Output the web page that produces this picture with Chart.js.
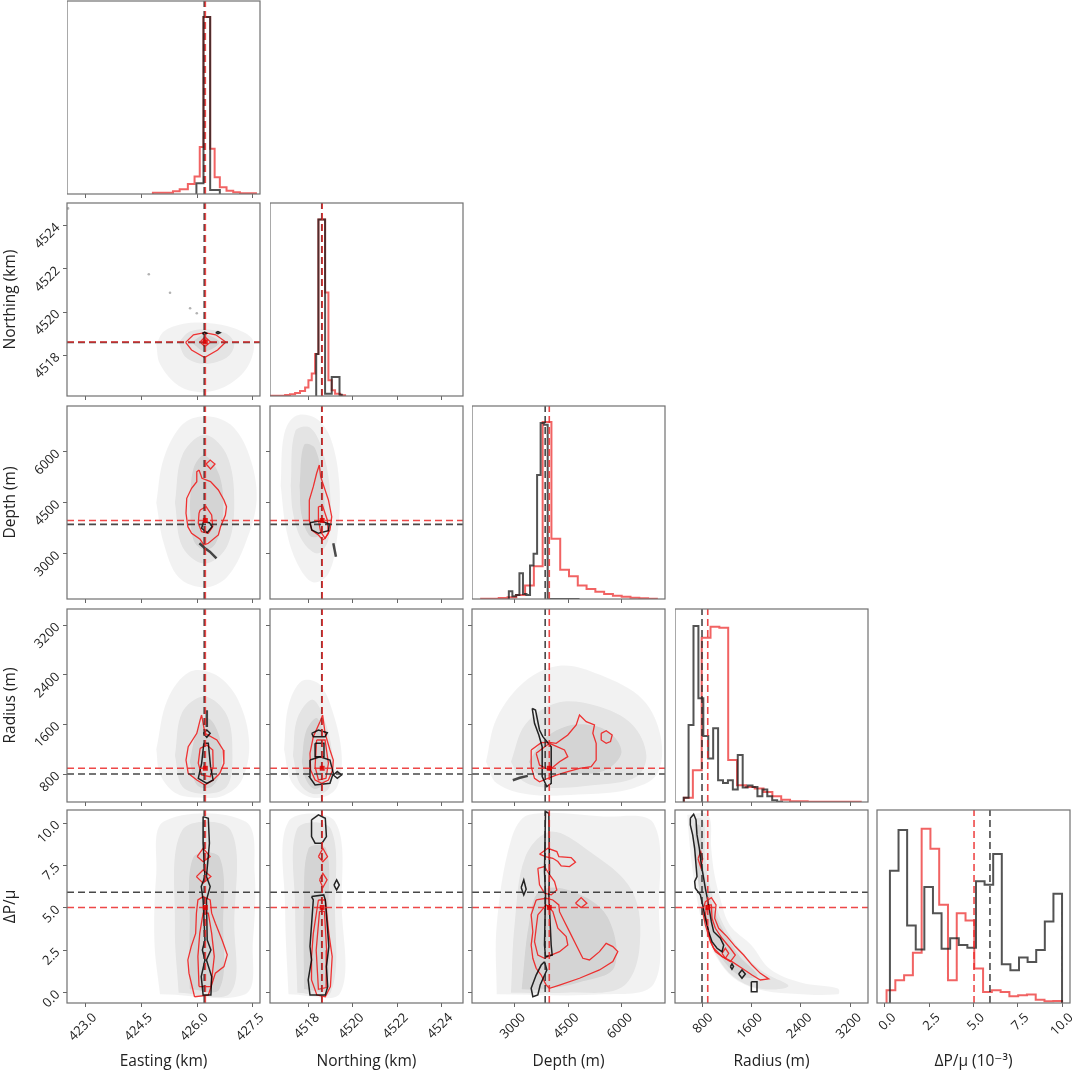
<!DOCTYPE html>
<html>
<head>
<meta charset="utf-8">
<title>Corner plot</title>
<script src="https://cdn.jsdelivr.net/npm/chart.js@4.4.1/dist/chart.umd.min.js"></script>
<style>
  body { margin: 0; background: #fff; overflow: hidden; }
  #fig { position: relative; width: 1072px; height: 1074px; overflow: hidden; }
  .cell { position: absolute; }
</style>
</head>
<body>
<div id="fig"></div>
<script>
// parameters of the corner plot
const xTitles = ["Easting (km)", "Northing (km)", "Depth (m)", "Radius (m)", "ΔP/μ (10⁻³)"];
const yTitles = ["", "Northing (km)", "Depth (m)", "Radius (m)", "ΔP/μ"];
const xRanges = [[422.5, 427.69], [4516.27, 4524.96], [1808, 7220], [363, 3486], [-0.45, 10.45]];
const yRanges = [null, [4516.12, 4525.05], [1659, 7349], [349, 3462], [-0.61, 10.78]];
const tickValues = [[423.0, 424.5, 426.0, 427.5], [4518, 4520, 4522, 4524], [3000, 4500, 6000], [800, 1600, 2400, 3200], [0, 2.5, 5, 7.5, 10]];
const tickDigits = [1, 0, 0, 0, 1];
const markBlack = [426.19, 4518.6, 3860, 800, 5.93];
const markRed = [426.22, 4518.62, 3975, 893, 5.03];

// 1-D histograms
const eastEdgesRed = [424.81, 425.35, 425.53, 425.75, 425.93, 426.07, 426.17, 426.35, 426.47, 426.61, 426.79, 426.97, 427.15, 427.58];
const eastCountsRed = [4, 8, 14, 30, 52, 140, 528, 135, 50, 20, 10, 5, 2];
const eastEdgesBlack = [425.98, 426.17, 426.35, 426.61];
const eastCountsBlack = [32, 528, 12];
const northEdgesRed = [4516.27, 4516.65, 4516.95, 4517.17, 4517.4, 4517.62, 4517.85, 4518.0, 4518.15, 4518.3, 4518.45, 4518.75, 4518.9, 4519.05, 4519.2, 4519.43, 4519.65];
const northCountsRed = [0.5, 1, 3, 5, 9, 15, 25, 47, 67, 125, 527, 309, 47, 17, 7, 2];
const northEdgesBlack = [4518.35, 4518.45, 4518.75, 4519.05, 4519.4, 4519.5];
const northCountsBlack = [125, 527, 7, 57, 4];
const depthRangeRed = [2065, 6991];
const depthCountsRed = [1, 1, 3, 5, 12, 40, 98, 528, 180, 87, 68, 40, 30, 22, 15, 10, 7, 4, 2, 1];
const depthRangeBlack = [2841, 4822];
const depthCountsBlack = [23, 8, 12, 77, 15, 12, 100, 135, 370, 525, 520, 0, 0, 0, 0, 0, 0, 0, 0, 0];
const radiusRangeRed = [509, 3368];
const radiusCountsRed = [13, 95, 490, 523, 520, 125, 50, 45, 40, 30, 17, 7, 2, 2, 1, 1, 1, 1, 1, 1];
const radiusRangeBlack = [503, 2095];
const radiusCountsBlack = [13, 230, 525, 310, 197, 130, 220, 65, 57, 65, 37, 140, 43, 49, 45, 17, 37, 17, 5, 1];
const dpRangeRed = [0.09, 10.0];
const dpCountsRed = [38, 68, 83, 150, 520, 460, 293, 68, 268, 246, 103, 33, 38, 33, 20, 23, 25, 10, 5, 6];
const dpRangeBlack = [0.28, 10.0];
const dpCountsBlack = [395, 516, 231, 160, 346, 268, 162, 193, 173, 165, 363, 353, 445, 116, 98, 136, 122, 158, 243, 326];

// Easting / Northing
const cloudEN1 = [[424.9, 4518.5], [425.1, 4519.1], [425.6, 4519.45], [426.3, 4519.5], [427.0, 4519.25], [427.5, 4518.7], [427.4, 4517.6], [426.9, 4516.7], [426.2, 4516.3], [425.5, 4516.6], [425.0, 4517.6]];
const cloudEN2 = [[425.5, 4518.6], [425.8, 4519.1], [426.3, 4519.2], [426.8, 4519.0], [427.0, 4518.5], [426.8, 4517.9], [426.2, 4517.6], [425.7, 4517.9]];
const cloudEN3 = [[425.85, 4518.6], [426.2, 4518.95], [426.6, 4518.6], [426.2, 4518.2]];
const redEN1 = [[425.69, 4518.6], [425.9, 4518.95], [426.2, 4519.05], [426.5, 4518.95], [426.77, 4518.62], [426.55, 4518.25], [426.2, 4517.9], [425.85, 4518.25]];
const redEN2 = [[426.08, 4518.62], [426.21, 4518.85], [426.36, 4518.62], [426.21, 4518.4]];
const blackEN1 = [[426.14, 4519.02], [426.2, 4519.08], [426.26, 4519.02], [426.2, 4518.96]];
const blackEN2 = [[426.5, 4519.05], [426.56, 4519.1], [426.62, 4519.05], [426.56, 4519.0]];
const dotsEN = [[424.7, 4521.75], [425.27, 4520.9], [425.81, 4520.18], [425.99, 4519.95], [422.53, 4524.8]];

// Easting / Depth
const cloudED1 = [[424.9, 4500], [425.1, 5800], [425.6, 6800], [426.2, 7050], [426.9, 6800], [427.4, 5900], [427.6, 4600], [427.3, 3300], [426.8, 2300], [426.2, 2000], [425.5, 2300], [425.1, 3300]];
const cloudED2 = [[425.4, 4500], [425.6, 5900], [426.2, 6500], [426.8, 5900], [427.0, 4500], [426.8, 3200], [426.2, 2700], [425.6, 3200]];
const cloudED3 = [[425.8, 4400], [425.9, 5500], [426.2, 5900], [426.6, 5300], [426.7, 4200], [426.5, 3300], [426.2, 3100], [425.9, 3400]];
const redED1 = [[426.05, 5462], [426.13, 5218], [426.36, 5118], [426.57, 4873], [426.72, 4578], [426.79, 4381], [426.76, 4136], [426.63, 3791], [426.57, 3546], [426.30, 3301], [426.18, 3251], [426.08, 3419], [425.85, 3596], [425.75, 3791], [425.70, 4186], [425.72, 4628], [425.85, 4923], [425.99, 5118], [425.99, 5412]];
const redED2 = [[426.24, 5639], [426.35, 5757], [426.48, 5639], [426.36, 5492]];
const redED3 = [[426.08, 4283], [426.24, 4381], [426.39, 4136], [426.42, 3791], [426.30, 3596], [426.12, 3645], [426.03, 3891], [426.05, 4186]];
const blackED1 = [[426.17, 3938], [426.33, 3909], [426.40, 3791], [426.27, 3614], [426.12, 3743]];
const streakED = [[426.06, 3301], [426.21, 3154], [426.34, 3055], [426.52, 2859]];

// Northing / Depth
const cloudND1 = [[4516.75, 5000], [4516.9, 6500], [4517.4, 7050], [4518.3, 7000], [4519.0, 6400], [4519.4, 5000], [4519.3, 3500], [4518.9, 2400], [4518.2, 2150], [4517.5, 2700], [4517.0, 3700]];
const cloudND2 = [[4517.2, 5000], [4517.4, 6600], [4518.1, 6700], [4518.7, 5900], [4519.0, 4600], [4518.9, 3400], [4518.4, 3000], [4517.7, 3400], [4517.3, 4200]];
const cloudND3 = [[4517.6, 5000], [4517.8, 6200], [4518.3, 6100], [4518.7, 4800], [4518.6, 3600], [4518.1, 3500], [4517.7, 4100]];
const redND1 = [[4518.49, 5610], [4518.55, 5265], [4518.90, 4578], [4519.05, 4086], [4518.97, 3693], [4518.75, 3449], [4518.64, 3399], [4518.45, 3546], [4518.15, 3693], [4518.04, 3988], [4518.04, 4578], [4518.22, 4971], [4518.37, 5365]];
const redND2 = [[4518.45, 4381], [4518.64, 4401], [4518.85, 3988], [4518.90, 3596], [4518.75, 3449], [4518.55, 3645], [4518.45, 3988]];
const blackND1 = [[4518.07, 3909], [4518.52, 3968], [4518.94, 3870], [4518.90, 3673], [4518.45, 3596], [4518.15, 3693]];
const streakND = [[4519.12, 3301], [4519.24, 2908]];

// Easting / Radius
const cloudER1 = [[424.9, 1200], [425.2, 2000], [425.8, 2450], [426.5, 2400], [427.1, 2000], [427.4, 1300], [427.2, 700], [426.7, 450], [426.0, 420], [425.4, 500], [425.0, 800]];
const cloudER2 = [[425.4, 1100], [425.6, 1800], [426.2, 2050], [426.8, 1750], [426.95, 1100], [426.8, 600], [426.2, 480], [425.6, 600]];
const cloudER3 = [[425.8, 1000], [426.0, 1500], [426.3, 1700], [426.6, 1400], [426.65, 900], [426.4, 600], [426.0, 620]];
const redER1 = [[426.12, 1752], [426.21, 1457], [426.53, 1349], [426.70, 1188], [426.72, 973], [426.61, 812], [426.43, 704], [426.21, 623], [425.99, 704], [425.76, 812], [425.70, 1026], [425.76, 1241], [425.99, 1457], [426.08, 1672]];
const redER2 = [[426.08, 1215], [426.26, 1268], [426.42, 1188], [426.43, 919], [426.35, 757], [426.12, 784], [426.03, 973]];
const blackER1 = [[426.17, 1457], [426.26, 1510], [426.35, 1457], [426.26, 1393]];
const blackER2 = [[426.18, 1296], [426.30, 1296], [426.36, 919], [426.43, 704], [426.26, 650], [426.03, 731], [426.12, 973]];
const streakER = [[426.26, 1830], [426.26, 1560]];

// Northing / Radius
const cloudNR1 = [[4516.9, 1200], [4517.1, 1900], [4517.7, 2300], [4518.5, 2250], [4519.1, 1800], [4519.5, 1100], [4519.3, 600], [4518.7, 430], [4517.9, 450], [4517.2, 700]];
const cloudNR2 = [[4517.3, 1100], [4517.5, 1700], [4518.2, 2000], [4518.8, 1600], [4519.1, 1000], [4518.9, 560], [4518.2, 480], [4517.6, 650]];
const cloudNR3 = [[4517.7, 1000], [4517.9, 1500], [4518.4, 1700], [4518.8, 1200], [4518.8, 700], [4518.3, 560], [4517.9, 700]];
const redNR1 = [[4518.64, 1752], [4518.75, 1457], [4518.97, 1188], [4519.12, 1026], [4519.09, 865], [4518.90, 704], [4518.60, 650], [4518.30, 704], [4518.10, 865], [4518.07, 1134], [4518.22, 1403], [4518.52, 1645]];
const redNR2 = [[4518.37, 1349], [4518.75, 1349], [4518.90, 973], [4518.79, 731], [4518.45, 704], [4518.30, 919]];
const blackNR1 = [[4518.15, 1457], [4518.45, 1510], [4518.85, 1467], [4518.75, 1403], [4518.22, 1403]];
const blackNR2 = [[4518.30, 1296], [4518.70, 1296], [4518.70, 1080], [4518.30, 1080]];
const blackNR3 = [[4518.07, 1026], [4518.52, 1080], [4518.97, 1026], [4519.12, 812], [4518.97, 650], [4518.30, 623], [4518.04, 758]];
const blackNR4 = [[4519.12, 785], [4519.3, 840], [4519.49, 785], [4519.3, 730]];

// Depth / Radius
const cloudDR1 = [[2200, 1000], [2500, 1700], [3300, 2300], [4300, 2550], [5400, 2400], [6600, 2000], [7100, 1400], [7000, 800], [6200, 550], [4800, 470], [3400, 470], [2500, 650]];
const cloudDR2 = [[2900, 1000], [3300, 1600], [4200, 1950], [5300, 1900], [6300, 1600], [6700, 1100], [6400, 750], [5200, 620], [3900, 580], [3200, 700]];
const cloudDR3 = [[3400, 1000], [3900, 1400], [4700, 1600], [5600, 1500], [6000, 1150], [5500, 850], [4400, 800], [3700, 780]];
const redDR1 = [[3468, 1188], [3748, 1306], [3981, 1310], [4169, 1296], [4494, 1430], [4730, 1591], [4822, 1752], [5010, 1644], [5243, 1591], [5196, 1457], [5290, 1296], [5290, 1026], [5150, 919], [4822, 892], [4494, 838], [4169, 784], [3934, 731], [3701, 676], [3561, 731], [3468, 919]];
const redDR2 = [[3608, 1134], [3981, 1296], [4402, 1188], [4494, 1080], [4262, 999], [3981, 865], [3701, 946]];
const redDR3 = [[5431, 1457], [5571, 1500], [5739, 1430], [5692, 1323], [5571, 1296], [5431, 1349]];
const blackDR1 = [[3496, 1860], [3589, 1833], [3701, 1510], [3794, 1403], [4029, 1241], [4029, 650], [3906, 596], [3776, 758], [3776, 1241], [3682, 1430], [3561, 1618]];
const streakDR = [[2952, 700], [3150, 740], [3373, 770]];

// Easting / dP
const cloudEP1 = [[425.0, -0.1], [424.85, 3], [424.9, 7], [425.1, 10.1], [427.3, 10.1], [427.55, 7], [427.5, 3], [427.3, -0.1]];
const cloudEP2 = [[425.5, 0], [425.4, 4], [425.6, 9.6], [426.9, 9.6], [427.0, 4], [426.9, 0]];
const cloudEP3 = [[425.8, 0.2], [425.8, 4], [425.9, 8], [426.6, 8], [426.7, 4], [426.6, 0.2]];
const redEP1 = [[425.93, -0.24], [425.78, 1.15], [425.75, 1.93], [425.84, 2.72], [425.96, 3.5], [425.98, 4.69], [426.02, 5.47], [426.16, 5.67], [426.35, 5.47], [426.39, 4.69], [426.49, 4.1], [426.67, 3.11], [426.81, 2.23], [426.72, 1.54], [426.49, 1.15], [426.39, 0.46], [426.30, -0.14]];
const redEP2 = [[425.98, 6.85], [426.16, 7.24], [426.37, 6.85], [426.16, 6.46]];
const redEP3 = [[426.0, 8.03], [426.16, 8.52], [426.35, 8.03], [426.16, 7.73]];
const redEP4 = [[426.05, 0.36], [426.02, 2.13], [426.07, 3.5], [426.16, 4.69], [426.30, 4.69], [426.39, 3.5], [426.46, 2.13], [426.37, 0.36]];
const blackEP1 = [[426.16, 10.39], [426.30, 10.29], [426.33, 8.82], [426.25, 6.85], [426.35, 6.26], [426.25, 5.47], [426.27, 3.11], [426.37, 2.52], [426.25, 1.93], [426.39, 0.95], [426.37, -0.14], [426.16, -0.14], [426.11, 0.95], [426.21, 1.93], [426.14, 2.52], [426.21, 3.11], [426.16, 5.47], [426.11, 6.26], [426.21, 6.85], [426.16, 8.82]];

// Northing / dP
const cloudNP1 = [[4517.1, -0.1], [4516.95, 5], [4517.1, 10.1], [4519.2, 10.1], [4519.5, 5], [4519.4, -0.1]];
const cloudNP2 = [[4517.5, 0], [4517.4, 5], [4517.5, 9.7], [4519.0, 9.7], [4519.2, 5], [4519.0, 0]];
const cloudNP3 = [[4517.8, 0.2], [4517.8, 5], [4518.0, 8.5], [4518.8, 8.5], [4518.9, 5], [4518.8, 0.2]];
const redNP1 = [[4518.45, 5.47], [4518.76, 5.47], [4518.92, 3.5], [4519.07, 2.13], [4518.99, 0.36], [4518.76, -0.24], [4518.38, -0.14], [4518.14, 0.75], [4518.14, 2.13], [4518.22, 3.5]];
const redNP2 = [[4518.45, 8.03], [4518.65, 8.52], [4518.86, 8.03], [4518.65, 7.73]];
const redNP3 = [[4518.5, 6.66], [4518.65, 7.04], [4518.84, 6.66], [4518.65, 6.2]];
const redNP4 = [[4518.5, 4.8], [4518.72, 4.8], [4518.82, 2.5], [4518.8, 0.3], [4518.45, 0.2], [4518.35, 2.5]];
const blackNP1 = [[4518.14, 10.2], [4518.45, 10.49], [4518.76, 10.29], [4518.81, 9.21], [4518.61, 8.82], [4518.30, 8.82], [4518.14, 9.21]];
const blackNP2 = [[4518.14, 5.67], [4518.69, 5.77], [4518.76, 5.47], [4518.92, 2.72], [4518.81, 1.54], [4518.87, 0.36], [4518.76, -0.14], [4518.07, -0.14], [4517.99, 0.75], [4518.14, 1.93], [4518.07, 2.72], [4518.22, 5.47]];
const blackNP3 = [[4519.15, 6.35], [4519.27, 6.65], [4519.39, 6.35], [4519.27, 6.06]];

// Depth / dP
const cloudDP1 = [[2500, -0.1], [2500, 4], [2900, 9], [3400, 10.5], [5500, 10.4], [6900, 10], [7050, 5], [6900, 0.5], [5500, -0.1]];
const cloudDP2 = [[2900, 0], [3000, 4], [3300, 8], [4000, 9.5], [5000, 8.5], [6300, 6], [6500, 2.5], [6000, 0.3], [4500, 0]];
const cloudDP3 = [[3200, 0.2], [3400, 4], [3700, 6], [4600, 6], [5600, 4.5], [5800, 1.5], [4800, 0.6], [3800, 0.2]];
const redDP1 = [[3701, 8.17], [3935, 8.52], [4187, 8.33], [4243, 8.03], [4589, 7.97], [4710, 7.70], [4542, 7.44], [4308, 7.48], [4215, 7.74], [4075, 7.93], [3869, 8.03]];
const redDP2 = [[3654, 7.34], [3841, 7.44], [3981, 6.96], [4122, 6.56], [4187, 6.06], [4028, 5.77], [3841, 5.87], [3701, 6.36]];
const redDP3 = [[3607, 5.47], [3467, 4.59], [3514, 3.60], [3467, 2.81], [3514, 2.03], [3607, 1.44], [3748, 1.04], [3888, 0.45], [3981, 0.26], [4262, 0.45], [4822, 0.85], [5383, 1.34], [5757, 1.83], [5897, 2.42], [5757, 2.72], [5570, 2.91], [5383, 2.42], [5103, 1.93], [4916, 2.03], [4729, 2.81], [4542, 3.60], [4402, 4.19], [4262, 4.78], [4243, 5.18], [4075, 5.47], [3888, 5.57]];
const redDP4 = [[3654, 4.59], [3888, 5.18], [4075, 4.78], [4215, 3.80], [4449, 3.31], [4495, 2.81], [4262, 2.42], [4028, 2.22], [3841, 2.03], [3654, 2.22], [3561, 3.01], [3607, 3.80]];
const redDP5 = [[4710, 5.28], [4869, 5.61], [5028, 5.28], [4869, 5.02]];
const blackDP1 = [[3869, 10.69], [3963, 10.59], [3981, 7.15], [3963, 5.77], [4028, 2.81], [4056, 2.22], [3869, 2.13], [3841, 2.81], [3869, 5.77], [3841, 7.15]];
const blackDP2 = [[3841, 1.83], [3907, 1.34], [3720, 0.45], [3654, -0.14], [3514, -0.24], [3467, 0.26], [3607, 1.04], [3748, 1.63]];
const blackDP3 = [[3187, 6.2], [3260, 6.65], [3327, 6.1], [3260, 5.77]];

// Radius / dP
const cloudRP1 = [[560, 10.5], [900, 10.5], [950, 8.5], [1000, 7], [1100, 5.5], [1250, 4], [1600, 2.8], [1900, 1.4], [2400, 0.6], [3000, 0.25], [3000, -0.1], [2200, -0.05], [1700, 0.2], [1300, 0.9], [1050, 2.0], [850, 3.5], [720, 5.5], [620, 8]];
const cloudRP2 = [[620, 10.3], [820, 10.2], [850, 8], [950, 6], [1150, 4], [1450, 2.4], [1800, 1.2], [2200, 0.4], [1800, 0.2], [1400, 0.7], [1100, 1.8], [900, 3.5], [760, 6], [660, 8.5]];
const cloudRP3 = [[680, 10], [780, 9.8], [800, 8], [900, 6], [1100, 4], [1400, 2.2], [1700, 1], [1400, 1], [1050, 2.4], [850, 4], [740, 6.5], [690, 8.5]];
const redRP1 = [[854, 5.37], [951, 5.61], [1027, 5.18], [1005, 4.39], [1070, 3.80], [1205, 3.31], [1339, 2.72], [1474, 2.22], [1609, 1.63], [1744, 1.14], [1879, 0.81], [1744, 0.75], [1609, 1.04], [1447, 1.44], [1285, 1.83], [1124, 2.13], [989, 2.62], [919, 3.21], [854, 4.0], [811, 4.78]];
const redRP2 = [[881, 5.18], [951, 5.18], [962, 4.39], [1016, 3.80], [1124, 3.21], [1258, 2.62], [1339, 2.22], [1258, 1.83], [1124, 2.13], [1016, 2.42], [935, 3.01], [897, 3.80], [854, 4.59]];
const redRP3 = [[735, 7.9], [780, 8.33], [811, 7.9], [780, 7.4]];
const redRP4 = [[1124, 2.32], [1178, 2.62], [1232, 2.32], [1178, 2.03]];
const blackRP1 = [[611, 10.29], [665, 10.53], [703, 10.2], [719, 9.31], [757, 8.52], [789, 7.54], [827, 6.75], [854, 6.16], [897, 5.37], [951, 4.19], [989, 3.60], [1097, 3.21], [1151, 2.81], [1124, 2.42], [1043, 2.62], [962, 3.01], [908, 3.60], [854, 4.39], [811, 5.18], [773, 5.77], [692, 6.16], [681, 6.56], [719, 6.85], [703, 7.54], [681, 8.52], [649, 9.31], [611, 9.90]];
const blackRP2 = [[1260, 1.54], [1285, 1.7], [1310, 1.54], [1285, 1.38]];
const blackRP3 = [[1393, 1.1], [1447, 1.34], [1501, 1.1], [1447, 0.85]];
const blackRP4 = [[1598, 0.65], [1690, 0.65], [1690, 0.06], [1598, 0.06]];

const panels = {
  "1-0": { haze: [cloudEN1, cloudEN2, cloudEN3], red: [redEN1, redEN2], black: [blackEN1, blackEN2], streak: [], dots: dotsEN },
  "2-0": { haze: [cloudED1, cloudED2, cloudED3], red: [redED1, redED2, redED3], black: [blackED1], streak: [streakED], dots: [] },
  "2-1": { haze: [cloudND1, cloudND2, cloudND3], red: [redND1, redND2], black: [blackND1], streak: [streakND], dots: [] },
  "3-0": { haze: [cloudER1, cloudER2, cloudER3], red: [redER1, redER2], black: [blackER1, blackER2], streak: [streakER], dots: [] },
  "3-1": { haze: [cloudNR1, cloudNR2, cloudNR3], red: [redNR1, redNR2], black: [blackNR1, blackNR2, blackNR3, blackNR4], streak: [], dots: [] },
  "3-2": { haze: [cloudDR1, cloudDR2, cloudDR3], red: [redDR1, redDR2, redDR3], black: [blackDR1], streak: [streakDR], dots: [] },
  "4-0": { haze: [cloudEP1, cloudEP2, cloudEP3], red: [redEP1, redEP2, redEP3, redEP4], black: [blackEP1], streak: [], dots: [] },
  "4-1": { haze: [cloudNP1, cloudNP2, cloudNP3], red: [redNP1, redNP2, redNP3, redNP4], black: [blackNP1, blackNP2, blackNP3], streak: [], dots: [] },
  "4-2": { haze: [cloudDP1, cloudDP2, cloudDP3], red: [redDP1, redDP2, redDP3, redDP4, redDP5], black: [blackDP1, blackDP2, blackDP3], streak: [], dots: [] },
  "4-3": { haze: [cloudRP1, cloudRP2, cloudRP3], red: [redRP1, redRP2, redRP3, redRP4], black: [blackRP1, blackRP2, blackRP3, blackRP4], streak: [], dots: [] }
};

const hists = [
  { red: [eastEdgesRed, eastCountsRed], black: [eastEdgesBlack, eastCountsBlack] },
  { red: [northEdgesRed, northCountsRed], black: [northEdgesBlack, northCountsBlack] },
  { red: [binEdges(depthRangeRed, 20), depthCountsRed], black: [binEdges(depthRangeBlack, 20), depthCountsBlack] },
  { red: [binEdges(radiusRangeRed, 20), radiusCountsRed], black: [binEdges(radiusRangeBlack, 20), radiusCountsBlack] },
  { red: [binEdges(dpRangeRed, 20), dpCountsRed], black: [binEdges(dpRangeBlack, 20), dpCountsBlack] }
];

// layout
const boxLeft = [67, 270, 472, 675, 877];
const boxTop = [1, 203, 406, 609, 810];
const BOX = 193;
const FONT = "'Open Sans', 'DejaVu Sans', sans-serif";
const RED = "rgba(238, 30, 30, 0.9)";
const BLACK = "rgba(0, 0, 0, 0.85)";

function binEdges(range, n) {
  const w = (range[1] - range[0]) / n;
  return Array.from({ length: n + 1 }, (_, k) => range[0] + k * w);
}
function xy(arr) { return arr.map(p => ({ x: p[0], y: p[1] })); }
function closed(arr) { return arr.concat([arr[0]]); }
function stepPoints(e, c) {
  const a = [[e[0], 0]];
  c.forEach((v, k) => a.push([e[k], v]));
  a.push([e[e.length - 1], 0]);
  return a;
}
function lineSet(arr, color, width, extra) {
  return Object.assign({ data: xy(arr), showLine: true, borderColor: color, borderWidth: width,
    pointRadius: 0, fill: false, tension: 0 }, extra || {});
}
function noPad(s) { s.paddingLeft = 0; s.paddingRight = 0; s.paddingTop = 0; s.paddingBottom = 0; }

const framePlugin = {
  id: "frame",
  afterDatasetsDraw(chart) {
    const a = chart.chartArea, ctx = chart.ctx;
    ctx.save();
    ctx.strokeStyle = "#707070";
    ctx.lineWidth = 1.2;
    ctx.strokeRect(a.left, a.top, a.right - a.left, a.bottom - a.top);
    ctx.restore();
  }
};

function xAxis(j, labels) {
  return {
    type: "linear", min: xRanges[j][0], max: xRanges[j][1],
    afterBuildTicks: s => { s.ticks = tickValues[j].map(v => ({ value: v })); },
    afterFit: s => { s.height = labels ? 71 : 6; noPad(s); },
    border: { display: false },
    grid: { drawOnChartArea: false, drawTicks: true, tickLength: 4, color: "#666" },
    ticks: { display: labels, autoSkip: false, minRotation: 45, maxRotation: 45, labelOffset: 9, padding: 3,
      color: "#222", font: { family: FONT, size: 13 }, callback: v => Number(v).toFixed(tickDigits[j]) },
    title: { display: labels, text: xTitles[j], color: "#222", font: { family: FONT, size: 15.5 }, padding: { top: 0, bottom: 3 } }
  };
}
function yAxis(i, labels) {
  return {
    type: "linear", min: yRanges[i][0], max: yRanges[i][1],
    afterBuildTicks: s => { s.ticks = tickValues[i].map(v => ({ value: v })); },
    afterFit: s => { s.width = labels ? 67 : 6; noPad(s); },
    border: { display: false },
    grid: { drawOnChartArea: false, drawTicks: true, tickLength: 4, color: "#666" },
    ticks: { display: labels, autoSkip: false, minRotation: 45, maxRotation: 45, padding: 5,
      color: "#222", font: { family: FONT, size: 13 }, callback: v => Number(v).toFixed(tickDigits[i]) },
    title: { display: labels, text: yTitles[i], color: "#222", font: { family: FONT, size: 15.5 }, padding: { top: 1, bottom: 0 } }
  };
}

function dash(x0, y0, x1, y1, color) {
  return lineSet([[x0, y0], [x1, y1]], color, 1.6, { borderDash: [7, 4] });
}

function makePanel(i, j) {
  const diag = i === j;
  const padL = diag ? (i === 4 ? 24 : 0) : (j === 0 ? 67 : 6);
  const padB = i === 4 ? 71 : 6;
  const padR = i === 4 ? 10 : 1;   // room for the last rotated tick label
  const div = document.createElement("div");
  div.className = "cell";
  div.style.left = (boxLeft[j] - padL) + "px";
  div.style.top = (boxTop[i] - 1) + "px";
  const cv = document.createElement("canvas");
  cv.width = BOX + padL + padR;
  cv.height = BOX + 1 + padB;
  div.appendChild(cv);
  document.getElementById("fig").appendChild(div);

  const back = [];   // back-to-front
  let yScale;
  if (diag) {
    const h = hists[j];
    // 'before': each count holds from its left edge to the next edge
    back.push(lineSet(stepPoints(h.red[0], h.red[1]), "rgba(238, 60, 60, 0.8)", 2, { stepped: "before" }));
    back.push(lineSet(stepPoints(h.black[0], h.black[1]), "rgba(25, 25, 25, 0.75)", 2, { stepped: "before" }));
    back.push(dash(markBlack[j], 0, markBlack[j], 576, "rgba(40, 40, 40, 0.85)"));
    back.push(dash(markRed[j], 0, markRed[j], 576, "rgba(235, 40, 40, 0.85)"));
    yScale = { display: false, min: 0, max: 576 };
  } else {
    const p = panels[i + "-" + j];
    const alphas = [0.05, 0.06, 0.075];
    p.haze.forEach((c, k) => back.push(lineSet(closed(c), "rgba(0,0,0,0)", 0,
      { fill: "shape", backgroundColor: "rgba(0,0,0," + alphas[k] + ")", tension: 0.35 })));
    if (p.dots.length) back.push({ data: xy(p.dots), pointRadius: 1.3, backgroundColor: "rgba(0,0,0,0.3)", borderWidth: 0 });
    p.red.forEach(c => back.push(lineSet(closed(c), RED, 1.3)));
    p.black.forEach(c => back.push(lineSet(closed(c), BLACK, 1.5)));
    p.streak.forEach(c => back.push(lineSet(c, "rgba(0,0,0,0.7)", 2.5)));
    const yr = yRanges[i], xr = xRanges[j];
    back.push(dash(markBlack[j], yr[0], markBlack[j], yr[1], "rgba(40, 40, 40, 0.85)"));
    back.push(dash(xr[0], markBlack[i], xr[1], markBlack[i], "rgba(40, 40, 40, 0.85)"));
    back.push(dash(markRed[j], yr[0], markRed[j], yr[1], "rgba(235, 40, 40, 0.85)"));
    back.push(dash(xr[0], markRed[i], xr[1], markRed[i], "rgba(235, 40, 40, 0.85)"));
    back.push({ data: [{ x: markRed[j], y: markRed[i] }], pointStyle: "rect", pointRadius: 3.5,
      backgroundColor: "rgba(225, 0, 0, 0.85)", borderWidth: 0 });
    yScale = yAxis(i, j === 0);
  }

  new Chart(cv, {
    type: "scatter",
    data: { datasets: back.reverse() },
    options: {
      responsive: false,
      animation: false,
      events: [],
      layout: { autoPadding: false, padding: { top: 1, right: padR, left: diag ? padL : 0, bottom: 0 } },
      plugins: { legend: { display: false }, tooltip: { enabled: false } },
      scales: { x: xAxis(j, i === 4), y: yScale }
    },
    plugins: [framePlugin]
  });
}

for (let i = 0; i < 5; i++) {
  for (let j = 0; j <= i; j++) makePanel(i, j);
}
</script>
</body>
</html>
